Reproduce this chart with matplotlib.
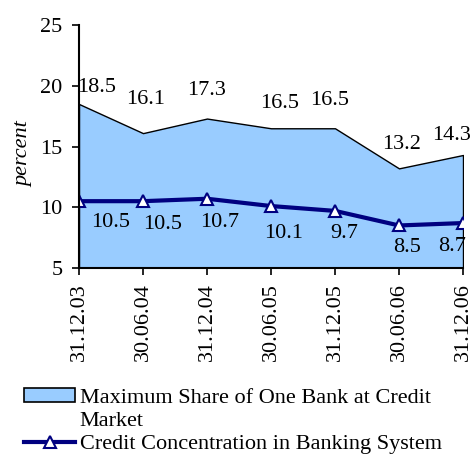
import matplotlib
matplotlib.use('Agg')
import matplotlib.pyplot as plt
from matplotlib.lines import Line2D
from matplotlib.patches import Patch
import numpy as np

dates = ['31.12.03', '30.06.04', '31.12.04', '30.06.05', '31.12.05', '30.06.06', '31.12.06']
max_share = [18.5, 16.1, 17.3, 16.5, 16.5, 13.2, 14.3]
credit_conc = [10.5, 10.5, 10.7, 10.1, 9.7, 8.5, 8.7]
area_name = ['Maximum Share of One Bank at Credit', 'Market']
line_name = 'Credit Concentration in Banking System'

# label offsets in points (dx, dy) - tuned by eye
area_off = [(13, 12), (2, 24), (0, 20.5), (6, 18), (-4, 20), (2, 17), (-8, 14)]
line_off = [(23, -15), (14, -17), (9, -17), (9, -19.5), (6.5, -16), (6, -15.5), (-8, -17)]

plt.rcParams['font.family'] = ['Liberation Serif', 'DejaVu Serif']
fs = 16

fig = plt.figure(figsize=(4.72, 4.59), dpi=100)
ax = fig.add_axes([79/472, 1-268/459, (463-79)/472, (268-25)/459])
x = np.arange(len(dates))

ax.fill_between(x, 5, max_share, facecolor='#99CCFF', edgecolor='black', linewidth=1)
ax.plot(x, credit_conc, color='#000080', linewidth=3, marker='^', markersize=9,
        markerfacecolor='white', markeredgecolor='#000080', markeredgewidth=1.5)

for i, v in enumerate(max_share):
    ax.annotate(f'{v}', (x[i], v), xytext=area_off[i], textcoords='offset points',
                ha='center', va='center', fontsize=fs, annotation_clip=False)
for i, v in enumerate(credit_conc):
    ax.annotate(f'{v}', (x[i], v), xytext=line_off[i], textcoords='offset points',
                ha='center', va='center', fontsize=fs, annotation_clip=False)

ax.set_xlim(0, len(dates)-1)
ax.set_ylim(5, 25)
ax.set_yticks([5, 10, 15, 20, 25])
ax.set_xticks(x)
ax.set_xticklabels(dates, rotation=90, fontsize=fs)
ax.tick_params(axis='y', labelsize=fs, direction='out', length=5, width=1.2, pad=7)
ax.tick_params(axis='x', direction='out', length=5, width=1.2, pad=6)
for s in ['top', 'right']:
    ax.spines[s].set_visible(False)
for s in ['left', 'bottom']:
    ax.spines[s].set_linewidth(1.5)
ax.set_ylabel('percent', fontsize=fs, fontstyle='italic')
ax.yaxis.set_label_coords(-0.12, 0.47)

handles = [Patch(facecolor='#99CCFF', edgecolor='black', linewidth=1.2),
           Patch(facecolor='none', edgecolor='none'),
           Line2D([], [], color='#000080', linewidth=3, marker='^', markersize=9,
                  markerfacecolor='white', markeredgecolor='#000080', markeredgewidth=1.5)]
labels = [area_name[0], area_name[1], line_name]
leg = fig.legend(handles, labels, loc='upper left', bbox_to_anchor=(24/472, 1-388/459),
                 frameon=False, fontsize=fs, handlelength=2.3, handleheight=0.6,
                 handletextpad=0.2, labelspacing=0.15, borderaxespad=0, borderpad=0)

fig.savefig('out.png', dpi=100)
